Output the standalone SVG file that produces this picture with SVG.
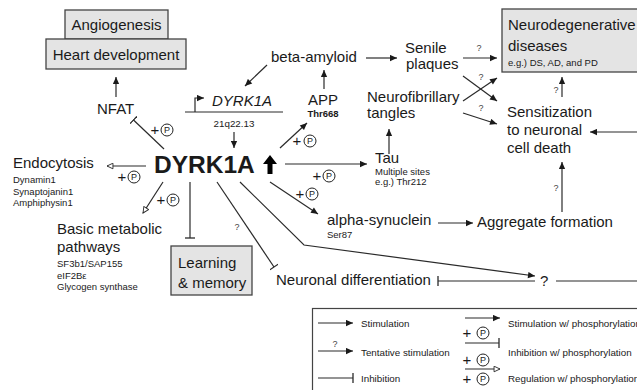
<svg xmlns="http://www.w3.org/2000/svg" width="637" height="390" viewBox="0 0 637 390">
<style>
text{font-family:"Liberation Sans",Arial,sans-serif;fill:#1a1a1a}
.l{font-size:15px}
.s{font-size:9.5px}
.q{font-size:9px;fill:#444}
.lg{font-size:9.8px}
.ln{fill:none;stroke:#2a2a2a;stroke-width:1.2}
.box{fill:#e4e4e4;stroke:#444;stroke-width:1.3}
.pc{fill:none;stroke:#222;stroke-width:1}
.pp{font-size:9px;text-anchor:middle}
.pl{font-size:15px;text-anchor:middle}
</style>
<defs>
<marker id="arr" viewBox="0 0 10 10" refX="10" refY="5" markerWidth="8" markerHeight="7" orient="auto" markerUnits="userSpaceOnUse"><path d="M0,0.5 L10,5 L0,9.5 z" fill="#1a1a1a"/></marker>
<marker id="open" viewBox="0 0 10 10" refX="9.5" refY="5" markerWidth="8" markerHeight="7" orient="auto" markerUnits="userSpaceOnUse"><path d="M1,1 L9.5,5 L1,9 z" fill="#fff" stroke="#2a2a2a" stroke-width="1.3"/></marker>
<marker id="tbar" viewBox="-1 -5 2 10" refX="0" refY="0" markerWidth="2" markerHeight="10" orient="auto" markerUnits="userSpaceOnUse"><path d="M0,-5 V5" stroke="#2a2a2a" stroke-width="1.3"/></marker>
</defs>

<g id="angiogenesis"><rect class="box" x="65" y="10" width="103" height="29"/><text class="l" x="116.5" y="30" text-anchor="middle">Angiogenesis</text></g>
<g id="heart"><rect class="box" x="46" y="39" width="140" height="30"/><text class="l" x="116" y="60" text-anchor="middle">Heart development</text></g>
<g id="nfat"><text class="l" x="97" y="114">NFAT</text></g>
<g id="gene">
<path class="ln" d="M185,112 H283"/>
<path class="ln" d="M195,112 V98 H204" marker-end="url(#arr)"/>
<text class="l" x="212" y="106" font-style="italic">DYRK1A</text>
<text x="234" y="127" font-size="9.8" text-anchor="middle">21q22.13</text>
</g>
<g id="dyrk1a">
<text x="154" y="173" font-size="24.5" font-weight="bold" fill="#000">DYRK1A</text>
<path d="M270,155 L277,164 L272.5,164 L272.5,174 L267.5,174 L267.5,164 L263,164 Z" fill="#000"/>
</g>
<g id="beta-amyloid"><text class="l" x="271" y="62">beta-amyloid</text></g>
<g id="app"><text class="l" x="308" y="105">APP</text><text class="s" x="323" y="117" text-anchor="middle" font-weight="bold" font-size="8.5">Thr668</text></g>
<g id="senile"><text class="l" x="405" y="53">Senile</text><text class="l" x="406" y="69">plaques</text></g>
<g id="tangles"><text class="l" x="367" y="102">Neurofibrillary</text><text class="l" x="367" y="118">tangles</text></g>
<g id="neurodeg"><rect class="box" x="502" y="9" width="140" height="63"/><text class="l" x="508" y="30">Neurodegenerative</text><text class="l" x="508" y="51">diseases</text><text class="s" x="508" y="66" font-size="9">e.g.) DS, AD, and PD</text></g>
<g id="sensitization"><text class="l" x="507" y="117">Sensitization</text><text class="l" x="507" y="135">to neuronal</text><text class="l" x="507" y="153">cell death</text></g>
<g id="tau"><text class="l" x="375" y="163">Tau</text><text class="s" x="375" y="175">Multiple sites</text><text class="s" x="375" y="185">e.g.) Thr212</text></g>
<g id="endocytosis"><text class="l" x="13" y="168">Endocytosis</text><text class="s" x="13" y="183">Dynamin1</text><text class="s" x="13" y="194.5">Synaptojanin1</text><text class="s" x="13" y="206">Amphiphysin1</text></g>
<g id="metabolic"><text class="l" x="57" y="234">Basic metabolic</text><text class="l" x="57" y="252">pathways</text><text class="s" x="57" y="267">SF3b1/SAP155</text><text class="s" x="57" y="278.5">eIF2Bε</text><text class="s" x="57" y="290">Glycogen synthase</text></g>
<g id="learning"><rect class="box" x="171" y="246" width="81" height="49"/><text class="l" x="178" y="268">Learning</text><text class="l" x="178" y="288">&amp; memory</text></g>
<g id="alpha-synuclein"><text class="l" x="327" y="225">alpha-synuclein</text><text class="s" x="327" y="237.5" font-size="9">Ser87</text></g>
<g id="aggregate"><text class="l" x="477" y="227">Aggregate formation</text></g>
<g id="differentiation"><text class="l" x="276" y="285">Neuronal differentiation</text></g>
<g id="unknown"><text class="l" x="540" y="286">?</text></g>

<g id="connectors">
<path class="ln" d="M116,97 V77" marker-end="url(#arr)"/>
<path class="ln" d="M164,149 L133.5,120" marker-end="url(#tbar)"/>
<path class="ln" d="M267,65 L245,86" marker-end="url(#arr)"/>
<path class="ln" d="M234,132 V148" marker-end="url(#arr)"/>
<path class="ln" d="M324,89 V70" marker-end="url(#arr)"/>
<path class="ln" d="M280,148 L307,123" marker-end="url(#arr)"/>
<path class="ln" d="M366,58 H397" marker-end="url(#arr)"/>
<path class="ln" d="M463,58 H497" marker-end="url(#arr)"/>
<path class="ln" d="M463,76 L497,101" marker-end="url(#arr)"/>
<path class="ln" d="M463,101 L497,78" marker-end="url(#arr)"/>
<path class="ln" d="M463,113 L497,124" marker-end="url(#arr)"/>
<path class="ln" d="M562,97 V77" marker-end="url(#arr)"/>
<path class="ln" d="M637,132 H590" marker-end="url(#arr)"/>
<path class="ln" d="M389,154 V129" marker-end="url(#arr)"/>
<path class="ln" d="M285,164 H367" marker-end="url(#arr)"/>
<path class="ln" d="M270,182 L318,214" marker-end="url(#arr)"/>
<path class="ln" d="M438,223 H473" marker-end="url(#arr)"/>
<path class="ln" d="M562,212 V162" marker-end="url(#arr)"/>
<path class="ln" d="M146,166 H107" marker-end="url(#open)"/>
<path class="ln" d="M163,182 L143,213" marker-end="url(#open)"/>
<path class="ln" d="M190,182 V238" marker-end="url(#tbar)"/>
<path class="ln" d="M217,182 L274,267" marker-end="url(#tbar)"/>
<path class="ln" d="M240,182 L304,245 L535,276" marker-end="url(#arr)"/>
<path class="ln" d="M535,281 H438" marker-end="url(#tbar)"/>
<path class="ln" d="M556,281 H637"/>
<text class="q" x="479" y="51" text-anchor="middle">?</text>
<text class="q" x="481" y="80" text-anchor="middle">?</text>
<text class="q" x="481" y="111" text-anchor="middle">?</text>
<text class="q" x="556" y="93" text-anchor="middle">?</text>
<text class="q" x="556" y="191" text-anchor="middle">?</text>
<text class="q" x="237" y="230" text-anchor="middle">?</text>
<g id="p-nfat"><text class="pl" x="155" y="135">+</text><circle class="pc" cx="167" cy="130" r="6"/><text class="pp" x="167" y="133.3">P</text></g>
<g id="p-app"><text class="pl" x="297" y="146">+</text><circle class="pc" cx="310" cy="141" r="6"/><text class="pp" x="310" y="144.3">P</text></g>
<g id="p-tau"><text class="pl" x="317" y="181">+</text><circle class="pc" cx="329" cy="176" r="6"/><text class="pp" x="329" y="179.3">P</text></g>
<g id="p-syn"><text class="pl" x="300" y="199">+</text><circle class="pc" cx="312" cy="194" r="6"/><text class="pp" x="312" y="197.3">P</text></g>
<g id="p-endo"><text class="pl" x="122" y="182">+</text><circle class="pc" cx="134" cy="177" r="6"/><text class="pp" x="134" y="180.3">P</text></g>
<g id="p-meta"><text class="pl" x="161" y="205">+</text><circle class="pc" cx="173" cy="200" r="6"/><text class="pp" x="173" y="203.3">P</text></g>
</g>

<g id="legend">
<rect x="312.5" y="308.5" width="340" height="90" fill="#fff" stroke="#444" stroke-width="1.2"/>
<path class="ln" d="M318,323 H353" marker-end="url(#arr)"/>
<text class="lg" x="361" y="327">Stimulation</text>
<path class="ln" d="M318,351 H353" marker-end="url(#arr)"/>
<text class="q" x="335" y="347" text-anchor="middle" font-size="8.5">?</text>
<text class="lg" x="361" y="356">Tentative stimulation</text>
<path class="ln" d="M318,378 H353" marker-end="url(#tbar)"/>
<text class="lg" x="361" y="382">Inhibition</text>
<path class="ln" d="M465,318 H500" marker-end="url(#arr)"/>
<text class="pl" x="467" y="338">+</text><circle class="pc" cx="483" cy="333" r="6"/><text class="pp" x="483" y="336.3">P</text>
<text class="lg" x="508" y="327">Stimulation w/ phosphorylation</text>
<path class="ln" d="M465,343 H499" marker-end="url(#tbar)"/>
<text class="pl" x="467" y="365">+</text><circle class="pc" cx="483" cy="360" r="6"/><text class="pp" x="483" y="363.3">P</text>
<text class="lg" x="508" y="356">Inhibition w/ phosphorylation</text>
<path class="ln" d="M465,369 H500" marker-end="url(#open)"/>
<text class="pl" x="467" y="384">+</text><circle class="pc" cx="483" cy="379" r="6"/><text class="pp" x="483" y="382.3">P</text>
<text class="lg" x="508" y="382">Regulation w/ phosphorylation</text>
</g>
</svg>
